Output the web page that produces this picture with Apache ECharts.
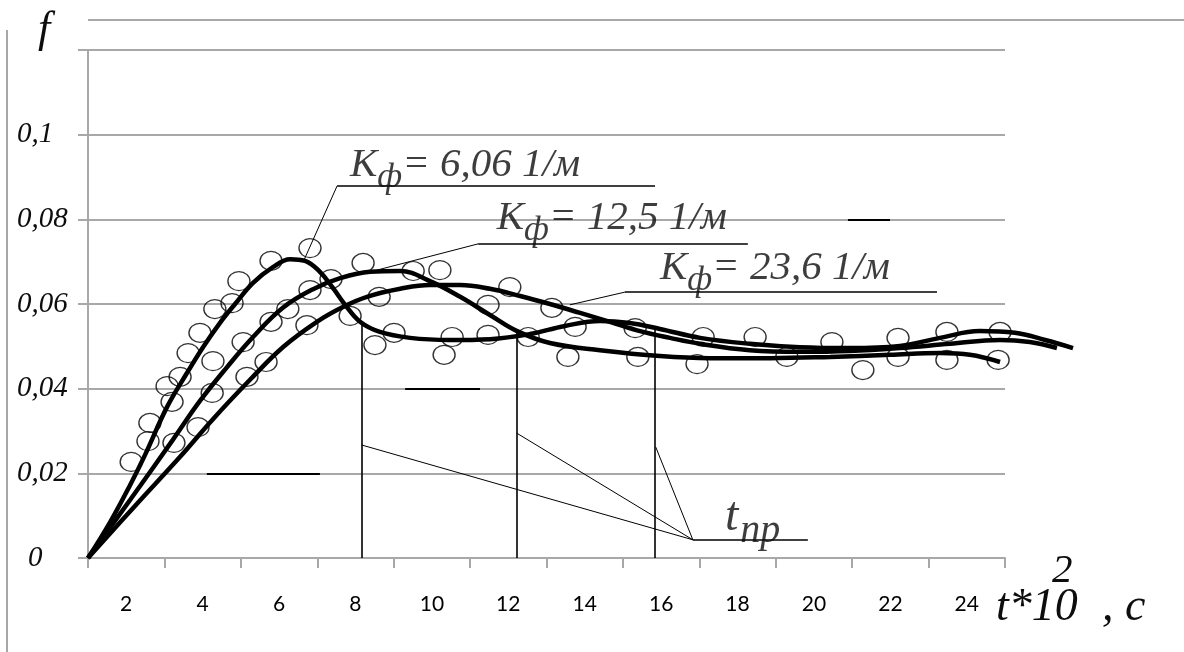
<!DOCTYPE html>
<html>
<head>
<meta charset="utf-8">
<script src="https://cdn.jsdelivr.net/npm/echarts@6/dist/echarts.min.js"></script>
<style>
  html, body { margin: 0; padding: 0; background: #fff; }
  #chart { width: 1184px; height: 652px; }
</style>
</head>
<body>
<div id="chart"></div>
<script>
// Time axis labels (t*10^2, s) and the value range of f
const tickLabels = ['2', '4', '6', '8', '10', '12', '14', '16', '18', '20', '22', '24'];
const tMin = 1;
const tAxisMax = 25;   // end of the labelled time axis
const tDataMax = 27;   // the fitted curves run a little past the axis end
const fMax = 0.12;
const fStep = 0.02;

// Fitted curves f(t) for the three filtration coefficients
const curveK606 = [
  [1.00, 0], [1.58, 0.0085], [2.10, 0.0172], [2.49, 0.0243], [3.07, 0.0357], [3.59, 0.0437],
  [4.01, 0.0498], [4.45, 0.0555], [4.85, 0.0600], [5.32, 0.0650], [5.84, 0.0687], [6.29, 0.0706],
  [6.68, 0.0702], [7.07, 0.0676], [7.41, 0.0638], [7.73, 0.0598], [8.12, 0.0558], [8.64, 0.0534],
  [9.43, 0.0520], [10.47, 0.0515], [11.52, 0.0517], [12.57, 0.0529], [13.48, 0.0548], [14.40, 0.0560],
  [15.18, 0.0555], [15.97, 0.0541], [17.02, 0.0520], [18.32, 0.0506], [19.63, 0.0498], [20.94, 0.0496],
  [22.25, 0.0501], [23.30, 0.0520], [24.34, 0.0536], [25.26, 0.0532], [26.05, 0.0515], [26.78, 0.0496]
];
const curveK125 = [
  [1.00, 0], [2.10, 0.0137], [3.22, 0.0279], [3.93, 0.0371], [4.64, 0.0451], [5.32, 0.0522],
  [6.10, 0.0591], [6.89, 0.0635], [7.60, 0.0661], [8.38, 0.0676], [9.17, 0.0678], [9.95, 0.0654],
  [10.74, 0.0617], [11.52, 0.0574], [12.23, 0.0536], [13.09, 0.0508], [14.40, 0.0491], [15.97, 0.0477],
  [17.28, 0.0472], [18.85, 0.0472], [20.42, 0.0475], [21.99, 0.0480], [23.30, 0.0484], [24.08, 0.0480],
  [24.87, 0.0463]
];
const curveK236 = [
  [1.00, 0], [2.23, 0.0123], [3.41, 0.0239], [4.27, 0.0328], [5.24, 0.0421], [6.10, 0.0498],
  [6.99, 0.0558], [7.67, 0.0593], [8.30, 0.0617], [9.17, 0.0636], [9.95, 0.0645], [10.74, 0.0645],
  [11.52, 0.0636], [12.31, 0.0619], [13.09, 0.0600], [13.88, 0.0579], [14.66, 0.0558], [15.45, 0.0536],
  [16.23, 0.0520], [17.02, 0.0506], [18.32, 0.0491], [19.63, 0.0487], [20.94, 0.0489], [22.25, 0.0496],
  [23.56, 0.0506], [24.87, 0.0515], [25.65, 0.0510], [26.36, 0.0496]
];

// Measured points
const measK606 = [
  [6.81, 0.0732], [5.79, 0.0702], [4.95, 0.0654], [4.77, 0.0602], [4.32, 0.0588], [3.93, 0.0532],
  [3.62, 0.0484], [3.41, 0.0428], [3.07, 0.0406], [3.20, 0.0369], [2.62, 0.0319], [2.57, 0.0276],
  [2.13, 0.0227], [8.51, 0.0503], [9.01, 0.0532], [10.53, 0.0522], [11.47, 0.0527], [13.75, 0.0546],
  [15.32, 0.0543], [17.10, 0.0522], [20.47, 0.0510], [22.20, 0.0520], [24.87, 0.0534]
];
const measK125 = [
  [7.36, 0.0659], [6.81, 0.0633], [6.23, 0.0588], [5.79, 0.0558], [5.06, 0.0510], [4.27, 0.0465],
  [4.25, 0.0390], [3.88, 0.0309], [3.25, 0.0272], [8.20, 0.0697], [10.32, 0.0480], [12.52, 0.0522],
  [13.56, 0.0475], [15.39, 0.0475], [16.94, 0.0458], [19.29, 0.0475], [21.28, 0.0444], [23.48, 0.0468],
  [24.82, 0.0468]
];
const measK236 = [
  [5.66, 0.0463], [5.16, 0.0428], [6.73, 0.0550], [7.86, 0.0572], [8.62, 0.0617], [9.51, 0.0678],
  [10.21, 0.0680], [11.47, 0.0598], [12.04, 0.0640], [13.14, 0.0591], [18.46, 0.0522], [22.20, 0.0475],
  [23.48, 0.0534]
];

// Transition times t_np and the f level where each marker meets its curve
const tnpTimes = [8.16, 12.22, 15.84];
const tnpTops = [0.0555, 0.0535, 0.0540];

// Curve captions: text, anchor (t, f), underline (t from, t to, f), leader end (t, f)
const captionTexts = ['= 6,06 1/м', '= 12,5 1/м', '= 23,6 1/м'];
const captionAnchors = [[7.86, 0.0928], [11.70, 0.0803], [15.97, 0.0685]];
const captionUnderlines = [[7.52, 15.84, 0.0879], [11.21, 18.27, 0.0742], [15.05, 23.22, 0.0628]];
const captionLeaderEnds = [[6.63, 0.0699], [8.56, 0.0680], [13.61, 0.0598]];

// t_np caption: anchor of the text, the junction of its leaders, underline end, and leader ends
const tnpCaptionAnchor = [17.67, 0.0097];
const tnpJunction = [16.83, 0.0043];
const tnpUnderlineEnd = 19.84;
const tnpLeaderEnds = [[8.16, 0.0267], [12.22, 0.0295], [15.86, 0.0262]];

// Dark strokes lying over parts of the grid
const overStrokes = [
  [[4.11, 0.02], [7.07, 0.02]],
  [[9.30, 0.04], [11.26, 0.04]],
  [[20.89, 0.08], [21.99, 0.08]]
];

const W = 1184;
const plotLeft = 88, plotRight = 179, plotTop = 50, plotBottom = 94;
// the data grid shares the time scale of the labelled axis but reaches further right
const unitPx = (W - plotLeft - plotRight) / (tAxisMax - tMin);
const dataRight = W - plotLeft - (tDataMax - tMin) * unitPx;

const serif = '"Liberation Serif", "DejaVu Serif", serif';
const grey = '#a8a8a8';
const ink = '#0d0d0d';

const segs = [];
tnpTimes.forEach((t, i) => segs.push({ coords: [[t, 0], [t, tnpTops[i]]], lineStyle: { width: 1.6 } }));
captionUnderlines.forEach((u, i) => {
  segs.push({ coords: [[u[0], u[2]], [u[1], u[2]]], lineStyle: { width: 1.6 } });
  segs.push({ coords: [[u[0], u[2]], captionLeaderEnds[i]], lineStyle: { width: 1 } });
});
segs.push({ coords: [tnpJunction, [tnpUnderlineEnd, tnpJunction[1]]], lineStyle: { width: 1.6 } });
tnpLeaderEnds.forEach(p => segs.push({ coords: [tnpJunction, p], lineStyle: { width: 1 } }));
overStrokes.forEach(s => segs.push({ coords: s, lineStyle: { width: 2 } }));

const captionRich = {
  k: { fontFamily: serif, fontStyle: 'italic', fontSize: 41, color: ink },
  s: { fontFamily: serif, fontStyle: 'italic', fontSize: 35, color: ink, padding: [26, 0, 0, 0] }
};

function curveSeries(data) {
  return {
    type: 'line', xAxisIndex: 1, yAxisIndex: 1, data, smooth: 0.4, showSymbol: false, clip: false,
    lineStyle: { color: '#000', width: 4.5 }, z: 3, silent: true
  };
}
function pointSeries(data) {
  return {
    type: 'scatter', xAxisIndex: 1, yAxisIndex: 1, data, symbol: 'circle', symbolSize: [22, 19], clip: false,
    itemStyle: { color: 'rgba(0,0,0,0)', borderColor: '#000', borderWidth: 1.3 }, z: 4, silent: true
  };
}

// time axis title "t*10², c", set as three pieces so the exponent sits right after "10"
function titleText(text, x, y, size) {
  return {
    type: 'text', x, y, silent: true, z: 10,
    style: { text, fill: ink, font: 'italic ' + size + 'px ' + serif, verticalAlign: 'middle', align: 'left' }
  };
}

const chart = echarts.init(document.getElementById('chart'), null, { renderer: 'canvas' });
chart.setOption({
  animation: false,
  backgroundColor: '#fff',
  grid: [
    { left: plotLeft, right: plotRight, top: plotTop, bottom: plotBottom, containLabel: false, outerBoundsMode: 'none' },
    { left: plotLeft, right: dataRight, top: plotTop, bottom: plotBottom, containLabel: false, outerBoundsMode: 'none' }
  ],
  xAxis: [
    {
      type: 'category', gridIndex: 0, data: tickLabels, boundaryGap: true,
      axisLine: { lineStyle: { color: grey, width: 2 } },
      axisTick: { show: true, length: 10, lineStyle: { color: grey, width: 2 } },
      axisLabel: { margin: 36, color: '#000', fontSize: 21, fontFamily: 'Lato, "Liberation Sans", sans-serif' },
      splitLine: { show: false }
    },
    { type: 'value', gridIndex: 1, min: tMin, max: tDataMax, show: false }
  ],
  yAxis: [
    {
      type: 'value', gridIndex: 0, min: 0, max: fMax, interval: fStep,
      axisLine: { show: true, lineStyle: { color: grey, width: 2 } },
      axisTick: { show: true, length: 10, lineStyle: { color: grey, width: 2 } },
      splitLine: { show: true, lineStyle: { color: grey, width: 2 } },
      axisLabel: {
        align: 'left', margin: 71,
        formatter: v => {
          if (v > fMax - fStep / 2) return '';
          if (v === 0) return '{z|0}';
          return '{n|' + String(+v.toFixed(2)).replace('.', ',') + '}';
        },
        rich: {
          n: { fontFamily: serif, fontStyle: 'italic', fontSize: 29, color: ink },
          z: { fontFamily: serif, fontStyle: 'italic', fontSize: 29, color: ink, padding: [0, 0, 0, 11] }
        }
      },
      name: 'f', nameLocation: 'end', nameGap: 20, nameMoveOverlap: false,
      nameTextStyle: {
        fontFamily: serif, fontStyle: 'italic', fontSize: 44, color: ink,
        verticalAlign: 'middle', padding: [0, 88, 0, 0]
      }
    },
    { type: 'value', gridIndex: 1, min: 0, max: fMax, show: false }
  ],
  graphic: [
    { type: 'line', shape: { x1: plotLeft, y1: 20, x2: W, y2: 20 }, style: { stroke: grey, lineWidth: 2 } },
    { type: 'line', shape: { x1: 7, y1: 30, x2: 7, y2: 652 }, style: { stroke: grey, lineWidth: 2 } },
    titleText('t*10', 996, 608, 46),
    titleText('2', 1052, 571, 41),
    titleText(', c', 1102, 608, 46)
  ],
  series: [
    curveSeries(curveK606),
    curveSeries(curveK125),
    curveSeries(curveK236),
    pointSeries(measK606),
    pointSeries(measK125),
    pointSeries(measK236),
    {
      type: 'lines', coordinateSystem: 'cartesian2d', xAxisIndex: 1, yAxisIndex: 1, polyline: false, silent: true,
      lineStyle: { color: '#000', width: 1, opacity: 1 }, z: 2,
      data: segs
    },
    {
      type: 'scatter', xAxisIndex: 1, yAxisIndex: 1, symbolSize: 0, silent: true, z: 5, clip: false,
      data: captionAnchors.map((p, i) => ({ value: p, name: captionTexts[i] })),
      label: {
        show: true, position: 'right', distance: 0,
        formatter: p => '{k|К}{s|ф}{k|' + p.name + '}',
        rich: captionRich
      }
    },
    {
      type: 'scatter', xAxisIndex: 1, yAxisIndex: 1, symbolSize: 0, silent: true, z: 5, clip: false,
      data: [tnpCaptionAnchor],
      label: {
        show: true, position: 'right', distance: 0,
        formatter: '{t|t}{s|np}',
        rich: {
          t: { fontFamily: serif, fontStyle: 'italic', fontSize: 48, color: ink },
          s: { fontFamily: serif, fontStyle: 'italic', fontSize: 40, color: ink, padding: [30, 0, 0, 2] }
        }
      }
    }
  ]
});
</script>
</body>
</html>
